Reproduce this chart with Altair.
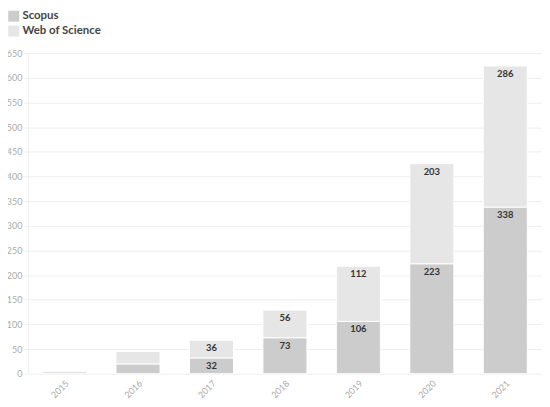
import altair as alt
import pandas as pd

years = ["2015", "2016", "2017", "2018", "2019", "2020", "2021"]
scopus = [4, 20, 32, 73, 106, 223, 338]
wos = [2, 25, 36, 56, 112, 203, 286]
series = ["Scopus", "Web of Science"]
colors = ["#cccccc", "#e6e6e6"]
yticks = [0, 50, 100, 150, 200, 250, 300, 350, 400, 450, 500, 550, 600, 650]

rows = []
for i, y in enumerate(years):
    rows.append({"year": y, "source": series[0], "value": scopus[i], "ord": 0})
    rows.append({"year": y, "source": series[1], "value": wos[i], "ord": 1})
df = pd.DataFrame(rows)

FONT = "Lato"

base = alt.Chart(df).transform_stack(
    stack="value", groupby=["year"], as_=["start", "end"],
    sort=[alt.SortField("ord", order="ascending")]
)

xaxis = alt.Axis(labelAngle=-45, labelColor="#aaaaaa", labelFontSize=9,
                 labelFont=FONT, ticks=False, domain=False, grid=False,
                 labelPadding=5, labelOverlap=False)
xscale = alt.Scale(paddingInner=0.4, paddingOuter=0.2)
yaxis = alt.Axis(values=yticks, labelColor="#aaaaaa", tickCount=14,
                 labelFontSize=9, labelFont=FONT, tickColor="#eeeeee",
                 tickSize=4, domainColor="#eeeeee", gridColor="#eeeeee",
                 labelPadding=2, labelOverlap=False, labelFlush=False)
yscale = alt.Scale(domain=[0, 650], nice=False)

bars = base.mark_bar(stroke="white", strokeWidth=1).encode(
    x=alt.X("year:N", title=None, sort=years, scale=xscale, axis=xaxis),
    y=alt.Y("start:Q", title=None, scale=yscale, axis=yaxis),
    y2="end:Q",
    color=alt.Color("source:N", sort=series,
                    scale=alt.Scale(domain=series, range=colors),
                    legend=alt.Legend(title=None, orient="none", legendX=-20, legendY=-43,
                                      symbolType="square", symbolSize=121,
                                      symbolStrokeWidth=0, labelFont=FONT,
                                      labelFontSize=11.5, labelFontWeight="bold",
                                      labelColor="#444444", rowPadding=2,
                                      labelOffset=3, symbolOpacity=1)),
    order=alt.Order("ord:Q"),
)

labels = base.transform_filter("datum.value >= 30").mark_text(
    baseline="top", dy=3, fontSize=9.5, fontWeight="bold", font=FONT, color="#333333"
).encode(
    x=alt.X("year:N", title=None, sort=years, scale=xscale, axis=xaxis),
    y=alt.Y("end:Q", title=None, scale=yscale, axis=yaxis),
    text="value:Q",
)

chart = alt.layer(bars, labels).properties(
    width=518, height=323,
    padding={"left": 20, "top": 44, "right": 0, "bottom": 30},
    autosize=alt.AutoSizeParams(type="none"),
).configure_view(stroke=None)

chart.save("out.html", embed_options={"renderer": "svg", "actions": False})
